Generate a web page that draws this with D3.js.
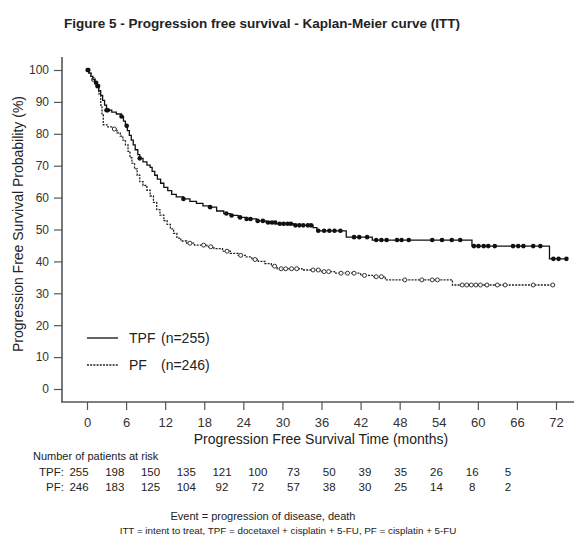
<!DOCTYPE html>
<html>
<head>
<meta charset="utf-8">
<script src="https://cdn.jsdelivr.net/npm/d3@7"></script>
<style>
  body { margin: 0; background: #fff; }
  text { font-family: "Liberation Sans", Arial, sans-serif; fill: #222; }
</style>
</head>
<body>
<script>
var width = 576,
    height = 538;

// step data: [month, survival % after the drop]
var tpfSteps = [
  [0,100],[0.3,99],[0.6,98],[0.9,97],[1.2,96],[1.5,95],[1.8,93.5],[2.1,92],[2.4,90.5],[2.7,89],
  [3.0,87.4],[3.8,86.8],[4.5,86.2],[5.3,85.4],[5.6,84],[5.9,82.5],[6.2,81],[6.5,79.5],[6.8,78],
  [7.1,76.5],[7.4,75],[7.8,73.5],[8.1,72.3],[8.6,71.2],[9.2,70.2],[9.7,69.5],[10.0,68.2],[10.4,67],
  [10.8,65.8],[11.3,64.5],[11.8,63.2],[12.4,62.2],[13.0,61],[13.7,60.2],[14.8,59.6],[15.8,58.8],
  [16.8,58.2],[17.8,57.4],[18.9,57],[19.9,55.8],[21.0,55],[22.0,54.4],[23.2,53.8],[24.5,53.3],
  [26.0,52.7],[27.5,52.2],[29.0,51.8],[31.7,51.3],[34.7,50.6],[35.3,49.6],[39.8,47.6],[43.8,46.7],
  [59.1,44.8],[71.0,40.8]
];
var tpfEnd = 73.6;
var tpfCensor = [0.1,0.2,1.4,1.6,1.7,3.0,3.2,5.3,6.1,8.1,14.8,18.9,21.4,22.2,23.5,24.5,25.1,26.2,27.0,
  27.8,28.4,28.9,29.6,30.2,30.8,31.3,32.0,32.6,33.2,33.9,34.4,35.5,36.4,37.2,38.0,38.9,41.0,41.8,43.0,
  44.4,45.2,46.0,47.6,48.3,49.4,53.0,54.5,56.0,57.3,59.4,60.1,60.9,61.6,62.6,65.4,66.2,67.0,68.5,69.6,
  71.6,72.4,73.6];

var pfSteps = [
  [0,100],[0.3,99],[0.6,98],[0.9,97],[1.2,95.8],[1.5,94.5],[1.8,92.5],[2.1,89],[2.3,86],[2.5,82.8],
  [3.2,82.2],[4.0,81.5],[4.6,80.3],[5.1,79.3],[5.5,78],[5.9,76.5],[6.3,74.5],[6.6,72.5],[6.9,70.8],
  [7.3,69],[7.7,67],[8.1,65],[8.6,63.8],[9.2,62.3],[9.7,60.5],[10.2,58.5],[10.7,56.2],[11.2,54.5],
  [11.8,52.8],[12.3,51.6],[12.8,50.2],[13.3,48.8],[13.8,47.3],[14.4,46.4],[15.3,45.7],[16.5,45.1],
  [18.4,44.6],[19.5,44],[20.8,43.2],[22.0,42.5],[23.2,41.9],[24.3,41.4],[25.3,40.6],[26.3,40],
  [27.3,39.3],[28.3,38.5],[29.2,37.7],[33.0,37.3],[36.0,36.8],[38.0,36.3],[42.0,35.6],[44.0,35.2],
  [45.8,34.2],[56.1,32.6]
];
var pfEnd = 71.6;
var pfCensor = [1.0,4.2,15.8,17.9,19.0,21.5,23.6,25.8,28.8,29.8,30.5,31.4,32.2,34.7,35.5,36.4,37.1,
  39.0,40.0,41.0,42.6,44.4,45.2,48.8,51.4,53.0,53.8,57.6,58.3,59.0,59.7,60.4,61.4,63.0,64.2,68.5,71.5];

var months = [0,6,12,18,24,30,36,42,48,54,60,66,72];
var yTicks = [0,10,20,30,40,50,60,70,80,90,100];
var tpfRisk = [255,198,150,135,121,100,73,50,39,35,26,16,5];
var pfRisk = [246,183,125,104,92,72,57,38,30,25,14,8,2];

var svg = d3.select('body')
    .append('svg')
    .attr('width', width)
    .attr('height', height);

var x = d3.scaleLinear().domain([0, 72]).range([87, 556]);
var y = d3.scaleLinear().domain([0, 100]).range([389, 70]);
var xRisk = d3.scaleLinear().domain([0, 72]).range([79, 508]);

var axisColor = '#555';

// title
svg.append('text')
    .attr('x', 262).attr('y', 28)
    .attr('text-anchor', 'middle')
    .style('font-weight', 'bold')
    .style('font-size', '13.5px')
    .text('Figure 5 - Progression free survival - Kaplan-Meier curve (ITT)');

// axes frame lines
svg.append('line').attr('x1', 62).attr('x2', 62).attr('y1', 57).attr('y2', 402)
    .attr('stroke', axisColor).attr('stroke-width', 1.6);
svg.append('line').attr('x1', 61).attr('x2', 574).attr('y1', 402).attr('y2', 402)
    .attr('stroke', axisColor).attr('stroke-width', 1.6);

// y axis
var yAxis = d3.axisLeft(y).tickValues(yTicks).tickSize(8).tickPadding(5);
var gy = svg.append('g').attr('transform', 'translate(62,0)').call(yAxis);
gy.select('.domain').remove();
gy.selectAll('line').attr('stroke', axisColor).attr('stroke-width', 1.2);
gy.selectAll('text').style('font-size', '12px').style('fill', '#333')
    .style('font-family', '"Liberation Sans", Arial, sans-serif');

// x axis
var xAxis = d3.axisBottom(x).tickValues(months).tickSize(8).tickPadding(8);
var gx = svg.append('g').attr('transform', 'translate(0,402)').call(xAxis);
gx.select('.domain').remove();
gx.selectAll('line').attr('stroke', axisColor).attr('stroke-width', 1.2);
gx.selectAll('text').style('font-size', '13px').style('fill', '#333')
    .style('font-family', '"Liberation Sans", Arial, sans-serif');

// axis titles
svg.append('text')
    .attr('x', 321).attr('y', 444)
    .attr('text-anchor', 'middle')
    .style('font-size', '14px')
    .text('Progression Free Survival Time (months)');

svg.append('text')
    .attr('transform', 'translate(23,224) rotate(-90)')
    .attr('text-anchor', 'middle')
    .style('font-size', '14px')
    .text('Progression Free Survival Probability (%)');

// KM curves
function survAt(steps, t) {
  var s = steps[0][1];
  steps.forEach(function(d) { if (d[0] <= t) s = d[1]; });
  return s;
}

var line = d3.line()
    .x(function(d) { return x(d[0]); })
    .y(function(d) { return y(d[1]); })
    .curve(d3.curveStepAfter);

var pfPath = pfSteps.concat([[pfEnd, pfSteps[pfSteps.length - 1][1]]]);
var tpfPath = tpfSteps.concat([[tpfEnd, tpfSteps[tpfSteps.length - 1][1]]]);

svg.append('path')
    .attr('d', line(pfPath))
    .attr('fill', 'none')
    .attr('stroke', '#222')
    .attr('stroke-width', 1.3)
    .attr('stroke-dasharray', '2,1.2');

svg.selectAll('.pfc')
    .data(pfCensor)
    .enter().append('circle')
    .attr('class', 'pfc')
    .attr('cx', function(d) { return x(d); })
    .attr('cy', function(d) { return y(survAt(pfSteps, d)); })
    .attr('r', 2)
    .attr('fill', '#fff')
    .attr('stroke', '#333')
    .attr('stroke-width', 1);

svg.append('path')
    .attr('d', line(tpfPath))
    .attr('fill', 'none')
    .attr('stroke', '#111')
    .attr('stroke-width', 1.3);

svg.selectAll('.tpfc')
    .data(tpfCensor)
    .enter().append('circle')
    .attr('class', 'tpfc')
    .attr('cx', function(d) { return x(d); })
    .attr('cy', function(d) { return y(survAt(tpfSteps, d)); })
    .attr('r', 2.3)
    .attr('fill', '#111');

// legend
svg.append('line').attr('x1', 87).attr('x2', 118).attr('y1', 338).attr('y2', 338)
    .attr('stroke', '#111').attr('stroke-width', 1.3);
svg.append('line').attr('x1', 87).attr('x2', 118).attr('y1', 365).attr('y2', 365)
    .attr('stroke', '#222').attr('stroke-width', 1.3).attr('stroke-dasharray', '2,1.2');
svg.append('text').attr('x', 129).attr('y', 343).style('font-size', '14px').text('TPF');
svg.append('text').attr('x', 161).attr('y', 343).style('font-size', '14px').text('(n=255)');
svg.append('text').attr('x', 129).attr('y', 370).style('font-size', '14px').text('PF');
svg.append('text').attr('x', 161).attr('y', 370).style('font-size', '14px').text('(n=246)');

// risk table
svg.append('text').attr('x', 33).attr('y', 460).style('font-size', '11px')
    .text('Number of patients at risk');
svg.append('text').attr('x', 64).attr('y', 476).attr('text-anchor', 'end')
    .style('font-size', '11.5px').text('TPF:');
svg.append('text').attr('x', 64).attr('y', 491).attr('text-anchor', 'end')
    .style('font-size', '11.5px').text('PF:');

svg.selectAll('.rtpf')
    .data(tpfRisk)
    .enter().append('text')
    .attr('class', 'rtpf')
    .attr('x', function(d, i) { return xRisk(months[i]); })
    .attr('y', 476)
    .attr('text-anchor', 'middle')
    .style('font-size', '11.5px')
    .text(function(d) { return d; });

svg.selectAll('.rpf')
    .data(pfRisk)
    .enter().append('text')
    .attr('class', 'rpf')
    .attr('x', function(d, i) { return xRisk(months[i]); })
    .attr('y', 491)
    .attr('text-anchor', 'middle')
    .style('font-size', '11.5px')
    .text(function(d) { return d; });

// footnotes
svg.append('text').attr('x', 263).attr('y', 520).attr('text-anchor', 'middle')
    .style('font-size', '11px').text('Event = progression of disease, death');
svg.append('text').attr('x', 288).attr('y', 534).attr('text-anchor', 'middle')
    .style('font-size', '9.8px')
    .text('ITT = intent to treat, TPF = docetaxel + cisplatin + 5-FU,  PF = cisplatin + 5-FU');
</script>
</body>
</html>
